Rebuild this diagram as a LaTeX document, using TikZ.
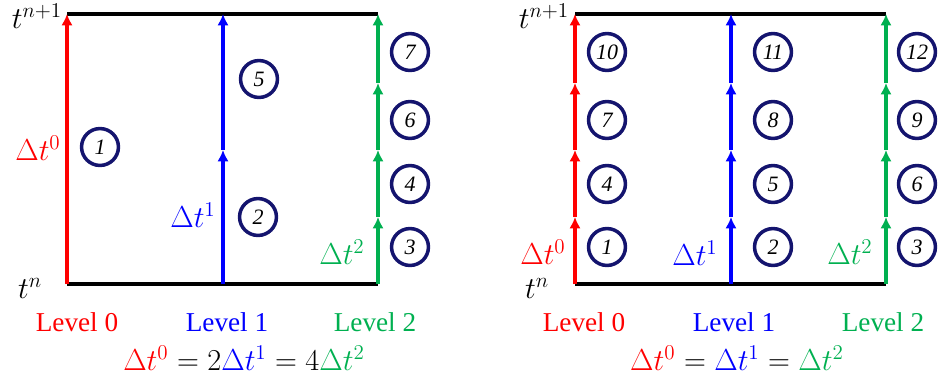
\documentclass[tikz,border=0pt]{standalone}
\usepackage{amsmath}
\usepackage[no-math]{fontspec}
\setmainfont{Liberation Serif}
\usetikzlibrary{arrows.meta}

\definecolor{lvlred}{RGB}{255,0,0}
\definecolor{lvlblue}{RGB}{0,0,255}
\definecolor{lvlgreen}{RGB}{0,176,80}
\definecolor{stapnavy}{RGB}{20,20,110}

\begin{document}
\begin{tikzpicture}[x=0.02cm,y=-0.02cm,
    stap/.style={circle,draw=stapnavy,line width=2pt,minimum size=21pt,inner sep=0pt,
      font=\fontsize{12.5}{14}\selectfont\itshape},
    seg/.style={line width=2pt,-{Latex[length=6.5pt,width=6.5pt]}},
    rand/.style={line width=2.3pt},
    tijd/.style={inner sep=0.5pt,font=\fontsize{17}{20}\selectfont},
    lvl/.style={font=\fontsize{15.5}{18}\selectfont}]
  \useasboundingbox (0,0) rectangle (938,380);

  % linker paneel: subcycling
  \foreach \i/\y in {0/284,1/217,2/150,3/83,4/14}{
    \coordinate (lr\i) at (67,\y);
    \coordinate (lb\i) at (223,\y);
    \coordinate (lg\i) at (378,\y);
  }
  \draw[rand] (lr0) -- (lg0);
  \draw[rand] (lr4) -- (lg4);
  \draw[seg,lvlred] (lr0) -- (lr4);
  \draw[seg,lvlblue] (lb0) -- (lb2);
  \draw[seg,lvlblue] (lb2) -- (lb4);
  \foreach \i/\j in {0/1,1/2,2/3,3/4}
    \draw[seg,lvlgreen] (lg\i) -- (lg\j);

  \node[stap] (ls1) at (100,147) {1};
  \node[stap] (ls2) at (258,217) {2};
  \node[stap] (ls5) at (259,79) {5};
  \foreach \n/\y in {3/247,4/184,6/120,7/52}
    \node[stap] (ls\n) at (410,\y) {\n};

  \node[tijd] (ltop) at (37,16) {$t^{n+1}$};
  \node[tijd] (lbot) at (30,288) {$t^{n}$};
  \node[tijd,lvlred] (ldt0) at (38,148) {$\Delta t^0$};
  \node[tijd,lvlblue] (ldt1) at (193,215) {$\Delta t^1$};
  \node[tijd,lvlgreen] (ldt2) at (342,252) {$\Delta t^2$};

  \node[lvl,lvlred] (llv0) at (77,322) {Level 0};
  \node[lvl,lvlblue] (llv1) at (227,322) {Level 1};
  \node[lvl,lvlgreen] (llv2) at (375,322) {Level 2};
  \node[tijd] (leq) at (244,358)
    {${\color{lvlred}\Delta t^0} = 2{\color{lvlblue}\Delta t^1} = 4{\color{lvlgreen}\Delta t^2}$};

  % rechter paneel: gelijke stappen
  \foreach \i/\y in {0/284,1/217,2/150,3/83,4/14}{
    \coordinate (rr\i) at (575,\y);
    \coordinate (rb\i) at (731,\y);
    \coordinate (rg\i) at (886,\y);
  }
  \draw[rand] (rr0) -- (rg0);
  \draw[rand] (rr4) -- (rg4);
  \foreach \i/\j in {0/1,1/2,2/3,3/4}{
    \draw[seg,lvlred] (rr\i) -- (rr\j);
    \draw[seg,lvlblue] (rb\i) -- (rb\j);
    \draw[seg,lvlgreen] (rg\i) -- (rg\j);
  }

  \foreach \k/\y in {0/247,1/184,2/120,3/52}{
    \pgfmathtruncatemacro{\na}{3*\k+1}
    \pgfmathtruncatemacro{\nb}{3*\k+2}
    \pgfmathtruncatemacro{\nc}{3*\k+3}
    \node[stap] (rs\na) at (607,\y) {\na};
    \node[stap] (rs\nb) at (773,\y) {\nb};
    \node[stap] (rs\nc) at (917,\y) {\nc};
  }

  \node[tijd] (rtop) at (544,16) {$t^{n+1}$};
  \node[tijd] (rbot) at (537,288) {$t^{n}$};
  \node[tijd,lvlred] (rdt0) at (543,252) {$\Delta t^0$};
  \node[tijd,lvlblue] (rdt1) at (695,253) {$\Delta t^1$};
  \node[tijd,lvlgreen] (rdt2) at (850,252) {$\Delta t^2$};

  \node[lvl,lvlred] (rlv0) at (584,322) {Level 0};
  \node[lvl,lvlblue] (rlv1) at (734,322) {Level 1};
  \node[lvl,lvlgreen] (rlv2) at (883,322) {Level 2};
  \node[tijd] (req) at (737,358)
    {${\color{lvlred}\Delta t^0} = {\color{lvlblue}\Delta t^1} = {\color{lvlgreen}\Delta t^2}$};
\end{tikzpicture}
\end{document}
